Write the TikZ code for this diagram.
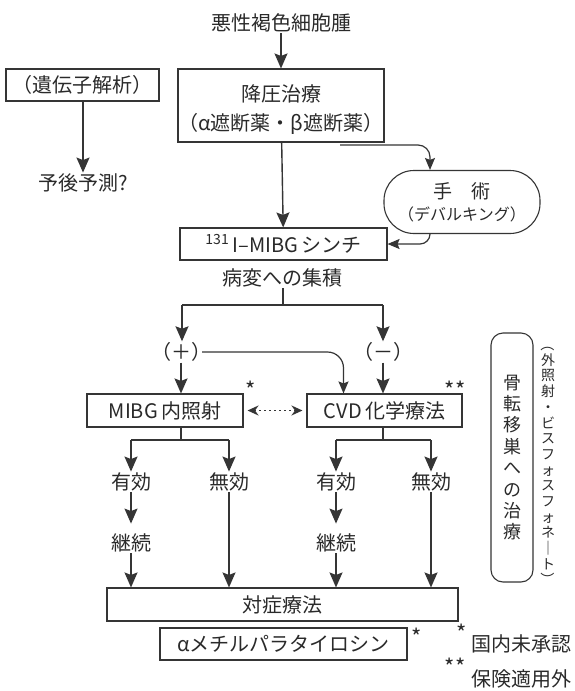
\documentclass[tikz,border=0pt]{standalone}
\usepackage{fontspec}
\setmainfont{Noto Sans CJK JP}
\usetikzlibrary{arrows.meta,calc}
\definecolor{ink}{HTML}{2A2A2A}
\definecolor{linec}{HTML}{353535}
\newcommand\fsz[2]{\fontsize{#1pt}{#2pt}\selectfont}
\begin{document}
\begin{tikzpicture}[x=1pt,y=-1pt,
  every node/.style={text=ink, font=\fsz{20}{24}},
  bx/.style={draw=linec, line width=1.1pt, inner sep=0pt},
  ln/.style={draw=linec, line width=1.4pt},
  ar/.style={draw=linec, line width=1.4pt, -{Stealth[length=15pt,width=13pt,inset=2.5pt]}},
  ars/.style={draw=linec, line width=1.2pt, -{Stealth[length=12pt,width=10pt,inset=2pt]}},
  lbl/.style={inner sep=1pt},
  star/.style={font=\fsz{22}{22}, inner sep=0pt},
]
\useasboundingbox (0,0) rectangle (574,691);
\fill[white] (0,0) rectangle (574,691);

% top part
\node[lbl] (title) at (281,23) {悪性褐色細胞腫};
\node[bx, minimum width=153pt, minimum height=32pt] (gene) at (82.5,85) {（遺伝子解析）};
\node[lbl] (prog) at (83,183) {予後予測?};
\node[bx, minimum width=206pt, minimum height=73pt] (bp) at (281,105.5) {};
\node[lbl, align=center, font=\fsz{20}{29}] (bpt) at (281,110) {降圧治療\\（α遮断薬・β遮断薬）};
\node[bx, rounded corners=30pt, minimum width=156pt, minimum height=63pt, align=center, font=\fsz{19}{22}] (pill) at (462,202) {手　術\\{\fsz{16}{22}（デバルキング）}};
\node[bx, minimum width=207pt, minimum height=32pt] (scint) at (283.5,244) {\textsuperscript{131}\,I–MIBG\,シンチ};
\node[lbl] (accum) at (282,278) {病変への集積};

\draw[ar] (title) -- (bp);
\draw[ar] (gene.south -| prog.north) -- (prog.north);
\draw[ar] (bp) -- (scint);
\coordinate (s1) at (340,145);
\draw[ars, rounded corners=12pt] (s1) -| ([xshift=-32pt]pill.north);
\draw[ars, rounded corners=10pt] ([xshift=-32pt]pill.south) |- (scint.east);

% branch after scint
\coordinate (j1) at (283,305);
\coordinate (jl) at (182,305);
\coordinate (jr) at (383,305);
\node[lbl] (plus) at (181,352) {（＋）};
\node[lbl] (minus) at (383,352) {（－）};
\draw[ln] (accum.south -| j1) -- (j1);
\draw[ln] (jl) -- (jr);
\draw[ar] (jl) -- (plus.north -| jl);
\draw[ar] (jr) -- (minus.north -| jr);

\node[bx, minimum width=156pt, minimum height=33pt] (irr) at (165,410.5) {MIBG\,内照射};
\node[bx, minimum width=155pt, minimum height=33pt] (cvd) at (384.5,410.5) {CVD\,化学療法};
\node[star] (st1) at (251,390) {*};
\node[star] (st2) at (455,390) {**};

\draw[ar] (plus.south) -- (plus.south |- irr.north);
\draw[ar] (minus.south) -- (minus.south |- cvd.north);
\draw[ars, rounded corners=16pt] ([xshift=-10pt]plus.east) -| ([xshift=-41pt]cvd.north);
\draw[linec, line width=1.8pt, dash pattern=on 2pt off 3pt, {Stealth[length=11pt,width=10pt]}-{Stealth[length=11pt,width=10pt]}, shorten <=4pt, shorten >=4pt] (irr.east) -- (cvd.west);

% lower branches
\coordinate (b1) at (181,440);
\coordinate (b1l) at (131,440);
\coordinate (b1r) at (229,440);
\coordinate (b2) at (383,440);
\coordinate (b2l) at (336,440);
\coordinate (b2r) at (431,440);
\node[lbl] (eff1) at (131,482) {有効};
\node[lbl] (ineff1) at (229,482) {無効};
\node[lbl] (eff2) at (336,482) {有効};
\node[lbl] (ineff2) at (431,482) {無効};
\node[lbl] (cont1) at (131,543) {継続};
\node[lbl] (cont2) at (336,543) {継続};
\node[bx, minimum width=351pt, minimum height=33pt] (sym) at (282.5,604.5) {対症療法};
\node[bx, minimum width=247pt, minimum height=32pt] (amt) at (283.5,644) {αメチルパラタイロシン};
\node[star] (st3) at (417,637) {*};

\draw[ln] (irr.south -| b1) -- (b1);
\draw[ln] (b1l) -- (b1r);
\draw[ar] (b1l) -- (eff1.north);
\draw[ar] (b1r) -- (ineff1.north);
\draw[ln] (cvd.south -| b2) -- (b2);
\draw[ln] (b2l) -- (b2r);
\draw[ar] (b2l) -- (eff2.north);
\draw[ar] (b2r) -- (ineff2.north);

\draw[ar, shorten >=9pt] (eff1) -- (cont1);
\draw[ar, shorten >=9pt] (eff2) -- (cont2);
\draw[ar] (cont1.south) -- (cont1.south |- sym.north);
\draw[ar] (cont2.south) -- (cont2.south |- sym.north);
\draw[ar] (ineff1.south) -- (ineff1.south |- sym.north);
\draw[ar] (ineff2.south) -- (ineff2.south |- sym.north);

% right side
\node[bx, rounded corners=12pt, minimum width=42pt, minimum height=249pt, align=center, font=\fsz{18}{21.4}] (bone) at (512,457.5) {骨\\転\\移\\巣\\へ\\の\\治\\療};
\node[align=center, inner sep=0pt, font=\fsz{14}{15.7}] (ext) at (548,462) {\rotatebox[origin=c]{-90}{（}\\外\\照\\射\\・\\ビ\\ス\\フ\\ォ\\ス\\フ\\ォ\\ネ\\｜\\ト\\\rotatebox[origin=c]{-90}{）}};

% footnotes
\node[star] (fs1) at (462,633) {*};
\node[anchor=west, inner sep=0pt] (fn1) at (471,644) {国内未承認};
\node[star] (fs2) at (455,667) {**};
\node[anchor=west, inner sep=0pt] (fn2) at (471,679) {保険適用外};
\end{tikzpicture}
\end{document}
